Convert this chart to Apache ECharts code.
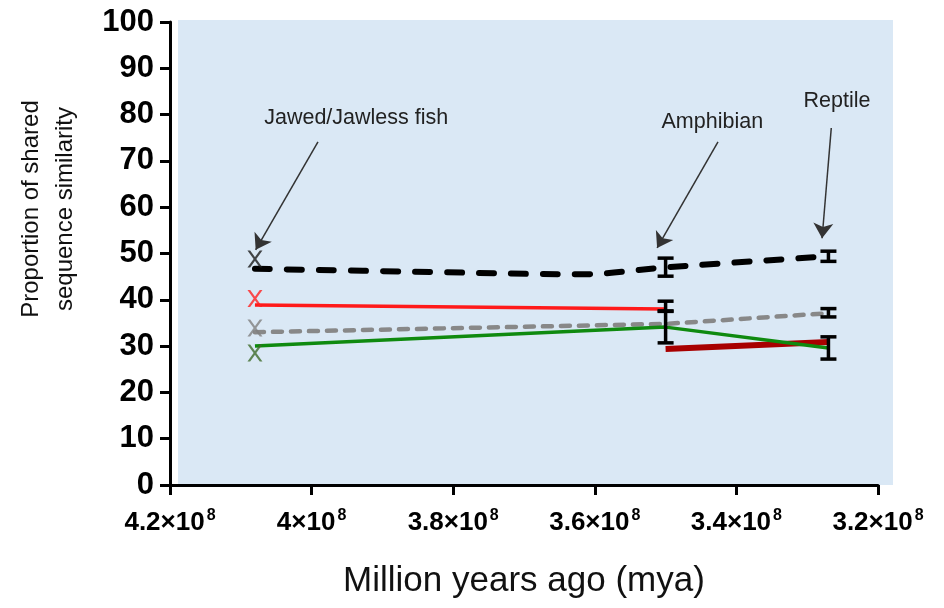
<!DOCTYPE html>
<html>
<head>
<meta charset="utf-8">
<script src="https://cdn.jsdelivr.net/npm/echarts@6/dist/echarts.min.js"></script>
<style>html,body{margin:0;padding:0;background:#fff}#c{width:944px;height:608px}</style>
</head>
<body>
<div id="c"></div>
<script>
// ---- data (x in years ago, y = proportion of shared sequence similarity) ----
const blackX = [408e6, 383e6, 362e6, 350e6, 327e6];
const blackY = [46.7, 46.0, 45.5, 47.0, 49.4];
const grayX = [408e6, 350e6, 327e6];
const grayY = [33.0, 34.8, 37.1];
const redX = [408e6, 350e6];
const redY = [38.9, 38.0];
const greenX = [408e6, 350e6, 327e6];
const greenY = [30.0, 34.1, 29.6];
const darkRedX = [350e6, 327e6];
const darkRedY = [29.4, 30.9];

// cross markers at the fish divergence
const crossX = [408e6, 408e6, 408e6, 408e6];
const crossY = [48.8, 40.3, 33.9, 28.5];
const crossColors = ['#1a1a1a', '#ff2020', '#808080', '#3f6b2a'];

// error bars: x, low, high
const errX = [350e6, 350e6, 350e6, 327e6, 327e6, 327e6];
const errLow = [45.1, 37.6, 30.7, 48.3, 36.3, 27.2];
const errHigh = [49.0, 39.7, 37.5, 50.5, 38.1, 32.0];

// annotations
const noteText = ['Jawed/Jawless fish', 'Amphibian', 'Reptile'];
const noteX = [393.7e6, 343.4e6, 325.8e6];
const noteY = [79.3, 78.4, 82.9];
const arrowFromX = [399.1e6, 342.6e6, 326.6e6];
const arrowFromY = [74.1, 74.1, 77.1];
const arrowToX = [407.9e6, 351.2e6, 327.9e6];
const arrowToY = [50.8, 51.2, 53.3];

// axis ticks
const xMin = 3.2e8, xMax = 4.2e8, xStep = 2e7;
const yMin = 0, yMax = 100, yStep = 10;

const zip = (a, b) => a.map((v, i) => [v, b[i]]);

const chart = echarts.init(document.getElementById('c'));
const crossPath = 'path://M0,0 L1.8,0 L10,13 L8.2,13 Z M8.2,0 L10,0 L1.8,13 L0,13 Z';
const FF = 'Liberation Sans, Arial, sans-serif';

const option = {
  animation: false,
  grid: { left: 170, right: 66, top: 22, bottom: 123, containLabel: false, outerBoundsMode: 'none' },
  graphic: [
    { type: 'rect', z: -10, shape: { x: 178, y: 20, width: 715, height: 465 }, style: { fill: '#dae8f5' } },
    { type: 'text', x: 48, y: 209, rotation: Math.PI / 2,
      style: { text: 'Proportion of shared\nsequence similarity', fontSize: 24, lineHeight: 34,
        fontFamily: FF, fill: '#111', align: 'center', verticalAlign: 'middle' } }
  ],
  xAxis: {
    type: 'value', inverse: true, min: xMin, max: xMax, interval: xStep,
    name: 'Million years ago (mya)', nameLocation: 'middle', nameGap: 79,
    nameTextStyle: { fontSize: 35, color: '#111', fontFamily: FF },
    axisLine: { show: true, lineStyle: { color: '#000', width: 3 } },
    axisTick: { show: true, length: 10, lineStyle: { color: '#000', width: 3 } },
    splitLine: { show: false },
    axisLabel: {
      margin: 23, color: '#000',
      formatter: function (v) {
        const m = Math.round(v / 1e7) / 10;
        return '{a|' + m + '×10}{s|8}';
      },
      rich: {
        a: { fontSize: 26, fontWeight: 'bold', fontFamily: FF, color: '#000' },
        s: { fontSize: 16, fontWeight: 'bold', fontFamily: FF, color: '#000', padding: [0, 0, 13, 2] }
      }
    }
  },
  yAxis: {
    type: 'value', min: yMin, max: yMax, interval: yStep,
    axisLine: { show: true, lineStyle: { color: '#000', width: 3 } },
    axisTick: { show: true, length: 10, lineStyle: { color: '#000', width: 3 } },
    splitLine: { show: false },
    axisLabel: { margin: 16, fontSize: 31, fontWeight: 'bold', color: '#000', fontFamily: FF }
  },
  series: [
    { type: 'line', data: zip(darkRedX, darkRedY), showSymbol: false, symbol: 'none',
      lineStyle: { color: '#a80000', width: 6 }, z: 2 },
    { type: 'line', data: zip(redX, redY), showSymbol: false, symbol: 'none',
      lineStyle: { color: '#ff1a1a', width: 3.5 }, z: 3 },
    { type: 'line', data: zip(grayX, grayY), showSymbol: false, symbol: 'none',
      lineStyle: { color: '#888888', width: 4.5, type: [9, 9], cap: 'round' }, z: 3 },
    { type: 'line', data: zip(greenX, greenY), showSymbol: false, symbol: 'none',
      lineStyle: { color: '#0f8a0f', width: 3.5 }, z: 4 },
    { type: 'line', data: zip(blackX, blackY), showSymbol: false, symbol: 'none', smooth: 0.35,
      lineStyle: { color: '#000', width: 6, type: [15, 17], cap: 'round' }, z: 5 },
    { type: 'custom', z: 6,
      data: errX.map((x, i) => [x, errLow[i], errHigh[i]]),
      encode: { x: 0, y: [1, 2] },
      renderItem: function (params, api) {
        const lo = api.coord([api.value(0), api.value(1)]);
        const hi = api.coord([api.value(0), api.value(2)]);
        const w = 8;
        const st = { stroke: '#000', lineWidth: 3.5 };
        return { type: 'group', children: [
          { type: 'line', shape: { x1: lo[0], y1: lo[1], x2: hi[0], y2: hi[1] }, style: st },
          { type: 'line', shape: { x1: lo[0] - w, y1: lo[1], x2: lo[0] + w, y2: lo[1] }, style: st },
          { type: 'line', shape: { x1: hi[0] - w, y1: hi[1], x2: hi[0] + w, y2: hi[1] }, style: st }
        ] };
      }
    },
    { type: 'scatter', z: 7, symbol: crossPath, symbolSize: [15, 17],
      data: crossX.map((x, i) => ({ value: [x, crossY[i]], itemStyle: { color: crossColors[i] } })),
      markLine: {
        silent: true, symbol: ['none', 'arrow'], symbolSize: 15,
        label: { show: false },
        lineStyle: { color: '#333', width: 1.5, type: 'solid' },
        data: arrowFromX.map((x, i) => [{ coord: [x, arrowFromY[i]] }, { coord: [arrowToX[i], arrowToY[i]] }])
      },
      markPoint: {
        silent: true, symbol: 'rect', symbolSize: 0,
        data: noteText.map((t, i) => ({ coord: [noteX[i], noteY[i]], value: t,
          label: { show: true, position: 'inside', formatter: t, fontSize: 21.5, color: '#222',
            fontFamily: FF } }))
      }
    }
  ]
};
chart.setOption(option);
</script>
</body>
</html>
